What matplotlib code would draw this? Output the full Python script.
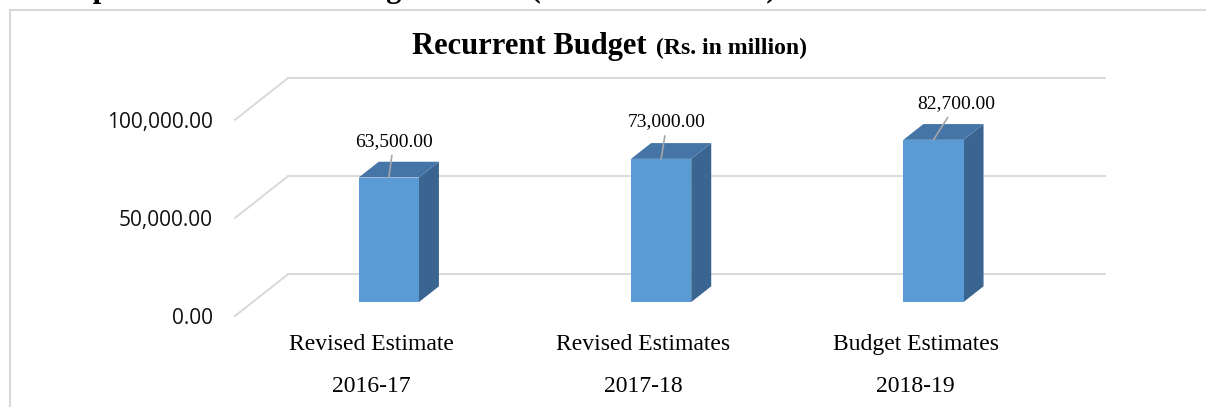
import matplotlib
matplotlib.use("Agg")
import matplotlib.pyplot as plt
from matplotlib.patches import Polygon, Rectangle

# ---------------- data ----------------
categories = ["Revised Estimate", "Revised Estimates", "Budget Estimates"]
years = ["2016-17", "2017-18", "2018-19"]
values = [63500.00, 73000.00, 82700.00]
yticks = [0, 50000, 100000]
title_main = "Recurrent Budget"
title_unit = "(Rs. in million)"
heading = "Graph 3.1: Recurrent Budget Trends (2016/17 - 2018/19)"

# ---------------- layout / style ----------------
W, HP = 1206, 407
fig = plt.figure(figsize=(W / 100, HP / 100), dpi=100)
fx = lambda px: px / W
fy = lambda py: 1 - py / HP

SERIF = "Liberation Serif"
SANS = "Open Sans"
GRID = "#d9d9d9"
FRONT = "#5b9bd5"
TOP = "#4475a6"
SIDE = "#3a6590"

ax = fig.add_axes([fx(235), fy(316), fx(1105) - fx(235), fy(78) - fy(316)])
D = 0.195        # depth shift in category units
DH = 21320.0     # depth shift in value units
ymax = max(yticks)
ax.set_xlim(-0.5, 2.5 + D)
ax.set_ylim(0, ymax + DH)
for s in ax.spines.values():
    s.set_visible(False)
ax.patch.set_alpha(0)

# walls / gridlines
for v in yticks:
    ax.plot([-0.5, -0.5 + D], [v, v + DH], color=GRID, lw=1.4, clip_on=False, zorder=1)
    ax.plot([-0.5 + D, 2.5 + D], [v + DH, v + DH], color=GRID, lw=1.4, clip_on=False, zorder=1)

# 3D bars
bw = 0.221
f0, f1 = 0.333, 0.71
label_offsets = [(5, 36), (6, 37), (23, 36)]
for i, v in enumerate(values):
    xl = i - bw / 2 + f0 * D
    xr = i + bw / 2 + f0 * D
    y0 = f0 * DH
    sx = (f1 - f0) * D
    sy = (f1 - f0) * DH
    front = Polygon([(xl, y0), (xr, y0), (xr, y0 + v), (xl, y0 + v)], closed=True,
                    facecolor=FRONT, edgecolor="none", zorder=3)
    side = Polygon([(xr, y0), (xr + sx, y0 + sy), (xr + sx, y0 + sy + v), (xr, y0 + v)],
                   closed=True, facecolor=SIDE, edgecolor="none", zorder=3)
    top = Polygon([(xl, y0 + v), (xr, y0 + v), (xr + sx, y0 + v + sy), (xl + sx, y0 + v + sy)],
                  closed=True, facecolor=TOP, edgecolor="none", zorder=3)
    for p in (side, top, front):
        ax.add_patch(p)
    ax.annotate(f"{v:,.2f}", xy=((xl + xr) / 2, y0 + v), xytext=label_offsets[i],
                textcoords="offset pixels", ha="center", va="center",
                fontsize=14, family=SERIF, color="#000000", zorder=5,
                arrowprops=dict(arrowstyle="-", color="#a6a6a6", lw=1.2,
                                shrinkA=2, shrinkB=0))

# axis labels
ax.set_yticks(yticks)
ax.set_yticklabels([f"{t:,.2f}" for t in yticks], fontsize=15, family=SANS, color="#111111")
ax.tick_params(axis="y", length=0, pad=15.8)
ax.set_xticks(range(len(categories)))
ax.set_xticklabels([f"{c}\n{y}" for c, y in zip(categories, years)],
                   fontsize=17, family=SERIF, color="#000000", linespacing=2.32)
ax.tick_params(axis="x", length=0, pad=13)

# title
fig.text(fx(647), fy(54), title_main, ha="right", va="baseline", fontsize=22,
         fontweight="bold", family=SERIF)
fig.text(fx(656), fy(54), title_unit, ha="left", va="baseline", fontsize=17,
         fontweight="bold", family=SERIF)

# chart border
fig.add_artist(Rectangle((fx(10), -0.2), 1.2, fy(10) + 0.2, transform=fig.transFigure,
                         fill=False, edgecolor=GRID, lw=1.5, clip_on=False))

# cropped heading above the chart
fig.text(fx(40), 1 + 3.5 / HP, heading, ha="left", va="baseline", fontsize=22,
         fontweight="bold", family=SERIF)

fig.savefig("out.png", dpi=100)
